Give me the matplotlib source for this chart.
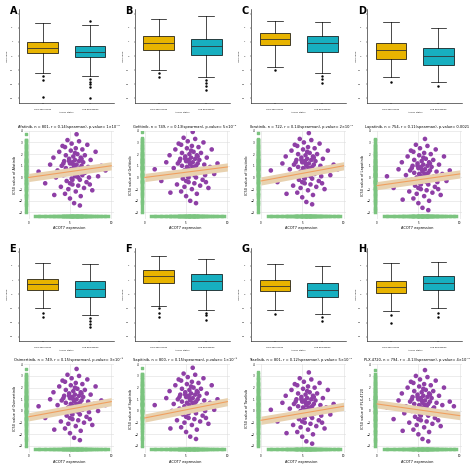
import matplotlib.pyplot as plt
import numpy as np

letters_top = ["A", "B", "C", "D"]
letters_bot = ["E", "F", "G", "H"]
drugs = ["Afatinib", "Gefitinib", "Ibrutinib", "Lapatinib", "Osimertinib", "Sapitinib", "Taselisib", "PLX-4720"]
titles = [
    "Afatinib, n = 801, r = 0.14(spearman), p.value= 1\u00d710\u207b\u2074",
    "Gefitinib, n = 749, r = 0.13(spearman), p.value= 5\u00d710\u207b\u2074",
    "Ibrutinib, n = 722, r = 0.14(spearman), p.value= 2\u00d710\u207b\u2074",
    "Lapatinib, n = 754, r = 0.11(spearman), p.value= 0.0021",
    "Osimertinib, n = 749, r = 0.15(spearman), p.value= 3\u00d710\u207b\u2075",
    "Sapitinib, n = 800, r = 0.15(spearman), p.value= 1\u00d710\u207b\u2075",
    "Taselisib, n = 801, r = 0.12(spearman), p.value= 5\u00d710\u207b\u2074",
    "PLX-4720, n = 794, r = -0.13(spearman), p.value= 4\u00d710\u207b\u2074",
]

# box stats per panel: (whislo, q1, med, q3, whishi) for high / low groups
box_high = [(-1.2, 0.2, 0.6, 1.0, 2.3), (-1.0, 0.4, 0.9, 1.4, 2.6), (-0.8, 0.8, 1.2, 1.6, 2.5), (-1.5, -0.2, 0.4, 0.9, 2.4),
            (-1.0, 0.3, 0.7, 1.1, 2.2), (-0.8, 0.8, 1.3, 1.7, 2.7), (-1.1, 0.2, 0.6, 1.0, 2.1), (-1.2, 0.1, 0.5, 0.9, 2.2)]
box_low = [(-1.4, -0.1, 0.3, 0.7, 2.2), (-1.5, 0.1, 0.7, 1.2, 2.8), (-1.2, 0.3, 0.9, 1.4, 2.4), (-1.8, -0.6, 0.0, 0.6, 2.0),
           (-1.5, -0.2, 0.4, 0.9, 2.1), (-1.1, 0.3, 0.9, 1.4, 2.5), (-1.4, -0.2, 0.3, 0.8, 2.0), (-1.0, 0.3, 0.8, 1.3, 2.3)]
out_high = [[-1.4, -1.7, -2.9], [-1.2, -1.5], [-1.0], [-1.8], [-1.3, -1.6], [-1.0, -1.3, -1.6], [-1.4], [-1.5, -2.0]]
out_low = [[-1.6, -1.8, -2.0, -2.2, 2.5, -3.0], [-1.7, -1.9, -2.1, -2.4], [-1.4, -1.6, -1.9], [-2.1],
           [-1.7, -1.9, -2.1, -2.3], [-1.3, -1.5, -1.8], [-1.6, -1.9], [-1.3, -1.6]]

# representative scatter cloud (x: ACOT7 expression, y: IC50 offset)
cloud_x = [1.2, 2.0, 2.6, 3.0, 3.3, 3.5, 3.7, 3.9, 4.0, 4.1, 4.2, 4.3, 4.4, 4.5, 4.5, 4.6, 4.7, 4.8, 4.8, 4.9,
           5.0, 5.0, 5.1, 5.1, 5.2, 5.2, 5.3, 5.3, 5.4, 5.4, 5.5, 5.5, 5.6, 5.6, 5.7, 5.7, 5.8, 5.8, 5.9, 5.9,
           6.0, 6.0, 6.1, 6.1, 6.2, 6.2, 6.3, 6.3, 6.4, 6.5, 6.5, 6.6, 6.7, 6.8, 6.9, 7.0, 7.1, 7.2, 7.3, 7.5,
           7.7, 7.9, 8.1, 8.4, 8.8, 9.3, 3.1, 4.4, 5.0, 5.6, 6.2, 6.8, 4.2, 5.3, 6.4, 5.8, 4.9, 6.0, 5.4, 7.4]
cloud_y = [0.1, -0.9, 0.7, 1.3, -0.4, 0.2, 1.8, -1.2, 0.6, 2.3, -0.2, 1.0, -1.8, 0.4, 1.5, -0.7, 2.8, 0.0, -1.4, 1.2,
           0.8, -2.2, 0.3, 1.9, -0.5, 2.5, 0.9, -1.0, 0.1, 1.4, -2.6, 0.5, 1.1, -0.3, 2.1, -1.6, 0.7, 3.3, -0.1, 1.6,
           0.2, -1.1, 1.0, 2.7, -0.6, 0.4, -2.0, 1.3, 0.6, -0.2, 2.0, 0.9, -1.3, 1.5, 0.1, -0.8, 2.4, 0.5, -0.4, 1.1,
           -1.5, 0.3, 1.8, -0.3, 0.6, 0.2, -1.9, 2.2, -0.9, 1.7, -2.8, 0.0, 0.8, -0.6, 1.2, 0.3, 1.0, -0.4, 0.7, -1.0]
# fitted line: value at x=0 and at x=10
line_y0 = [0.0, 0.0, -0.3, -0.7, -0.5, -0.6, -0.8, 0.6]
line_y1 = [1.0, 0.9, 1.0, 0.3, 0.8, 0.8, 0.4, -0.4]
# vertical shift of each cloud
shift = [0.4, 0.6, 0.5, 0.0, 0.3, 0.4, 0.0, 0.2]

yellow, teal, purple, green = "#E8B400", "#17AFC0", "#8E3FA6", "#7BC47F"

fig = plt.figure(figsize=(4.74, 4.67), dpi=100)
lefts = [0.02, 0.265, 0.51, 0.755]
for i in range(8):
    row = i // 4
    col = i % 4
    l = lefts[col]
    # boxplot panel
    by = 0.78 if row == 0 else 0.27
    ax = fig.add_axes([l + 0.02, by, 0.20, 0.2])
    stats = []
    for s, outs, lab in [(box_high[i], out_high[i], "High expression"), (box_low[i], out_low[i], "Low expression")]:
        stats.append(dict(whislo=s[0], q1=s[1], med=s[2], q3=s[3], whishi=s[4], fliers=outs, label=lab))
    bp = ax.bxp(stats, patch_artist=True, widths=0.65,
                flierprops=dict(marker=".", markersize=1.5, color="#333"),
                medianprops=dict(color="#333", lw=0.6), whiskerprops=dict(lw=0.5),
                capprops=dict(lw=0.5), boxprops=dict(lw=0.5))
    for p, c in zip(bp["boxes"], [yellow, teal]):
        p.set_facecolor(c)
    ax.set_ylim(-3.3, 3.3)
    ax.tick_params(labelsize=1.5, length=1, width=0.3)
    ax.set_ylabel("IC50 value", fontsize=1.5, labelpad=1)
    ax.set_xlabel("ACOT7 status", fontsize=1.5, labelpad=1)
    for sp in ["top", "right"]:
        ax.spines[sp].set_visible(False)
    for sp in ["left", "bottom"]:
        ax.spines[sp].set_linewidth(0.4)
    letter = letters_top[col] if row == 0 else letters_bot[col]
    fig.text(l + 0.0, by + 0.19, letter, fontsize=7, fontweight="bold")

    # scatter panel
    sy0 = 0.53 if row == 0 else 0.03
    ax2 = fig.add_axes([l + 0.03, sy0, 0.19, 0.19])
    x = np.array(cloud_x); y = np.array(cloud_y) + shift[i]
    ax2.grid(color="#dddddd", lw=0.4)
    ax2.set_axisbelow(True)
    ax2.scatter(x, y, s=11, color=purple, edgecolor="none", zorder=3)
    xl = np.array([0, 10])
    yl = np.array([line_y0[i], line_y1[i]])
    ax2.fill_between(xl, yl - 0.35, yl + 0.35, color="#E8D2B0", zorder=3, lw=0)
    ax2.plot(xl, yl, color="#F0A060", lw=0.8, zorder=4)
    ax2.scatter(np.full(y.size, -0.3), y, marker="s", s=3, color=green, zorder=2)
    ax2.scatter(x, np.full(x.size, -3.3), marker="s", s=3, color=green, zorder=2)
    ax2.plot([-0.3, -0.3], [-3.0, 3.2], color=green, lw=2.5, zorder=1)
    ax2.plot([0.8, 9.6], [-3.3, -3.3], color=green, lw=2.5, zorder=1)
    ax2.set_xlim(-0.6, 10.3)
    ax2.set_ylim(-3.6, 4.0)
    ax2.tick_params(labelsize=2, length=0, pad=1)
    ax2.set_xticks([0, 5, 10])
    for sp in ax2.spines.values():
        sp.set_visible(False)
    ax2.set_xlabel("ACOT7 expression", fontsize=2.5, labelpad=1)
    ax2.set_ylabel("IC50 value of " + drugs[i], fontsize=2.5, labelpad=1)
    ax2.set_title(titles[i], fontsize=2.6, pad=2)

fig.savefig("out.png", dpi=100, facecolor="white")
